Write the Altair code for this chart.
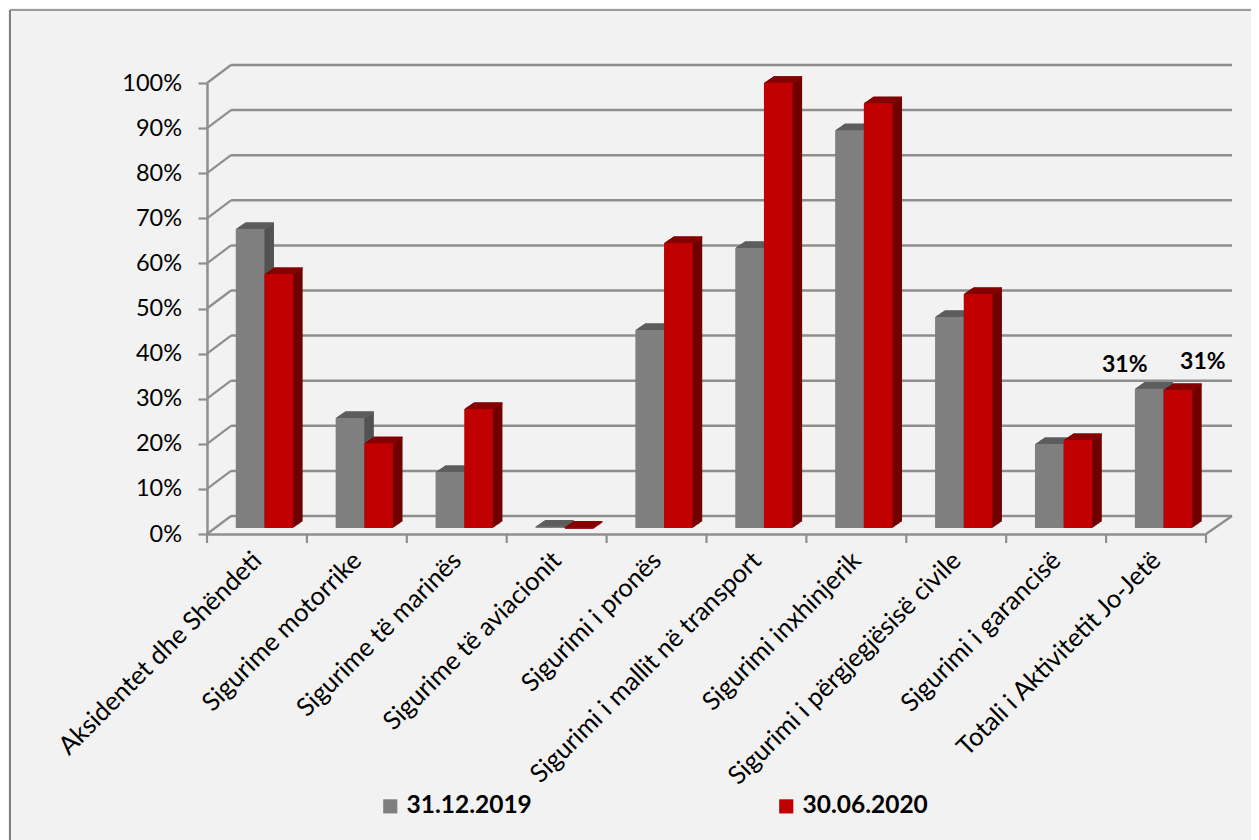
import altair as alt
import pandas as pd

categories = ["Aksidentet dhe Shëndeti", "Sigurime motorrike", "Sigurime të marinës",
              "Sigurime të aviacionit", "Sigurimi i pronës", "Sigurimi i mallit në transport",
              "Sigurimi inxhinjerik", "Sigurimi i përgjegjësisë civile", "Sigurimi i garancisë",
              "Totali i Aktivitetit Jo-Jetë"]
s2019 = [0.663, 0.244, 0.124, 0.003, 0.439, 0.621, 0.882, 0.468, 0.186, 0.309]
s2020 = [0.563, 0.188, 0.264, 0.001, 0.632, 0.987, 0.942, 0.519, 0.195, 0.306]
series = ["31.12.2019", "30.06.2020"]
ticks = [i / 10 for i in range(11)]
FRONT = ["#7f7f7f", "#c00000"]
SIDE = ["#525252", "#700000"]
TOP = ["#5e5e5e", "#860000"]
AXIS = "#8e8e8e"
FONT = "Lato"

W, H = 999, 451
DX, DY = 24, 18     # floor depth
BX, BY = 7.5, 6     # bar shift inside the floor
DEPTH_X, DEPTH_Y, STEPS = 9.5, 6.5, 12
BAR = 0.287         # bar width as a share of a category slot

rows = []
for s, (name, vals) in enumerate(zip(series, (s2019, s2020))):
    for c, v in enumerate(vals):
        start = c + 0.5 - BAR + s * BAR
        rows.append({"x0": start, "x1": start + BAR, "mid": start + BAR / 2,
                     "series": name, "v": v, "zero": 0.0, "low": v - 0.004})
df = pd.DataFrame(rows)
tick_df = pd.DataFrame({"t": ticks})
slot_df = pd.DataFrame({"s": list(range(len(categories) + 1))})

xscale = alt.Scale(domain=[0, len(categories)], nice=False, zero=False)
label_array = "[" + ",".join("'" + c + "'" for c in categories) + "]"
xaxis = alt.Axis(title=None, values=[i + 0.5 for i in range(len(categories))],
                 labelExpr=label_array + "[floor(datum.value)]",
                 labelAngle=-45, labelAlign="right", labelBaseline="middle",
                 labelFont=FONT, labelFontSize=25.5, labelColor="#000", labelPadding=22,
                 labelLimit=500, labelOverlap=False, labelFlush=False, labelBound=False,
                 ticks=False, grid=False, domainColor=AXIS, domainWidth=2.5)
xenc = alt.X("x0:Q", scale=xscale, axis=xaxis)
yscale = alt.Scale(domain=[0, 1], nice=False)
yaxis = alt.Axis(title=None, values=ticks, format=".0%", grid=False,
                 labelFont=FONT, labelFontSize=23.5, labelColor="#000", labelPadding=16.5,
                 tickSize=9, tickWidth=2.2, tickColor=AXIS,
                 domainColor=AXIS, domainWidth=2.5)
yenc = alt.Y("v:Q", scale=yscale, axis=yaxis)
ytick = alt.Y("t:Q", scale=yscale, axis=yaxis)

# back wall and left wall lines
back = alt.Chart(tick_df).mark_rule(color=AXIS, strokeWidth=2.5, yOffset=-DY).encode(
    y=ytick, x=alt.value(DX), x2=alt.value(W + DX + 2))
wall = alt.Chart(tick_df).mark_rule(color=AXIS, strokeWidth=2.2, y2Offset=-DY).encode(
    y=ytick, y2="t:Q", x=alt.value(0), x2=alt.value(DX))
floor_right = alt.Chart(tick_df[tick_df.t == 0]).mark_rule(color=AXIS, strokeWidth=2.2, y2Offset=-DY).encode(
    y=ytick, y2="t:Q", x=alt.value(W), x2=alt.value(W + DX + 2))
slot_ticks = alt.Chart(slot_df).mark_rule(color=AXIS, strokeWidth=2.2).encode(
    x=alt.X("s:Q", scale=xscale, axis=xaxis), y=alt.value(H), y2=alt.value(H + 9))

# chart frame
frame_left = alt.Chart(tick_df[tick_df.t == 0]).mark_rule(color="#7f7f7f", strokeWidth=2).encode(
    x=alt.value(-197), y=alt.value(-73), y2=alt.value(757))
frame_top = alt.Chart(tick_df[tick_df.t == 0]).mark_rule(color="#7f7f7f", strokeWidth=1.5).encode(
    x=alt.value(-197), x2=alt.value(1052), y=alt.value(-73))

layers = [frame_left, frame_top, back, wall, floor_right, slot_ticks]


def bar(base, color_kw, ox, oy, top):
    mark = dict(xOffset=ox, x2Offset=ox, yOffset=-oy, y2Offset=-oy, **color_kw)
    return base.mark_bar(**mark).encode(x=xenc, x2="x1:Q", y=yenc, y2="low:Q" if top else "zero:Q")


for i, name in enumerate(series):
    base = alt.Chart(df[df.series == name])
    for k in range(STEPS, 0, -1):
        layers.append(bar(base, {"color": SIDE[i]}, BX + DEPTH_X * k / STEPS, BY + DEPTH_Y * k / STEPS, False))
    for k in range(STEPS, 0, -1):
        layers.append(bar(base, {"color": TOP[i]}, BX + DEPTH_X * k / STEPS, BY + DEPTH_Y * k / STEPS, True))
    layers.append(base.mark_bar(xOffset=BX, x2Offset=BX, yOffset=-BY, y2Offset=-BY).encode(
        x=xenc, x2="x1:Q", y=yenc, y2="zero:Q",
        color=alt.Color("series:N", sort=series,
                        scale=alt.Scale(domain=series, range=FRONT),
                        legend=alt.Legend(title=None, orient="none", legendX=171, legendY=711,
                                          direction="horizontal", columns=2, columnPadding=242,
                                          symbolType="square", symbolSize=200, symbolStrokeWidth=0,
                                          labelFont=FONT, labelFontSize=24.5, labelFontWeight="bold",
                                          labelColor="#000", labelLimit=300))))

last = df[df.x0 >= len(categories) - 1]
for name, dx, dy in zip(series, (-24.5, 25), (-30, -33.5)):
    layers.append(alt.Chart(last[last.series == name]).mark_text(
        font=FONT, fontSize=23, fontWeight="bold", color="#000", dx=BX + dx, dy=dy).encode(
        x=alt.X("mid:Q", scale=xscale, axis=xaxis), y=yenc, text=alt.Text("v:Q", format=".0%")))

chart = alt.layer(*layers).properties(
    width=W, height=H, background="#f2f2f2", autosize=alt.AutoSizeParams(type="none"),
    padding={"left": 199, "top": 75, "right": 45, "bottom": 306}
).configure_view(stroke=None)

chart.save("out.html", embed_options={"renderer": "svg", "actions": False})
